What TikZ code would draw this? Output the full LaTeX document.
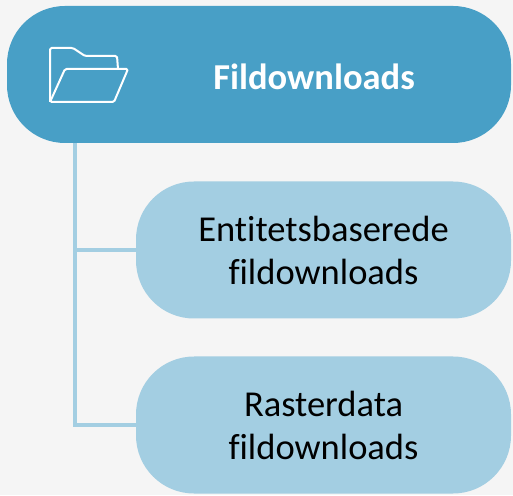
\documentclass[tikz,border=0pt]{standalone}
\usepackage{fontspec}
\setmainfont[Ligatures=NoCommon]{Carlito}
\definecolor{topblue}{RGB}{72,159,198}
\definecolor{subblue}{RGB}{163,206,226}
\definecolor{bggray}{RGB}{245,245,245}
\begin{document}
\begin{tikzpicture}[
    box/.style={rounded corners=58pt, minimum height=137pt, inner sep=0pt},
    subbox/.style={box, fill=subblue, minimum width=375pt, align=center,
      font=\fontsize{36.5}{43}\selectfont},
    conn/.style={subblue, line width=4pt}]
    \fill[bggray] (0,0) rectangle (513pt,495pt);
    \useasboundingbox (0,0) rectangle (513pt,495pt);
    \coordinate (stem) at (75pt,352pt);
    \draw[conn] (stem) |- (323.5pt,245pt);
    \draw[conn] (stem) |- (323.5pt,70pt);
    \node[box, fill=topblue, minimum width=504pt] (fil) at (259pt,420.5pt) {};
    \node[text=white, font=\fontsize{36.5}{43}\selectfont\bfseries] (filtxt) at (314pt,418pt) {Fildownloads};
    \node[subbox] (ent) at (323.5pt,245pt) {Entitetsbaserede\\fildownloads};
    \node[subbox] (ras) at (323.5pt,70pt) {Rasterdata\\fildownloads};
    \draw[white, line width=2pt, line join=round, rounded corners=1.5pt]
      (50pt,393pt) -- (50pt,447pt) -- (73pt,447pt) -- (85pt,439pt) -- (117pt,439pt) -- (118pt,426pt);
    \draw[white, line width=2pt, line join=round, rounded corners=1.5pt]
      (50pt,393pt) -- (114pt,393pt) -- (128pt,426pt) -- (65pt,426pt) -- cycle;
    \end{tikzpicture}
\end{document}
